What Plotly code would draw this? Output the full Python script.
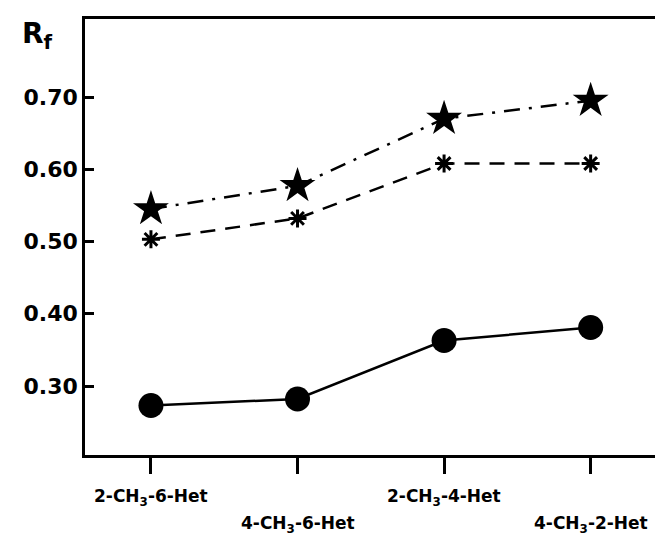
import plotly.graph_objects as go

categories = ["2-CH<sub>3</sub>-6-Het", "4-CH<sub>3</sub>-6-Het", "2-CH<sub>3</sub>-4-Het", "4-CH<sub>3</sub>-2-Het"]
x_pos = [0, 1, 2, 3]
rf_star = [0.545, 0.577, 0.670, 0.695]
rf_asterisk = [0.503, 0.532, 0.608, 0.608]
rf_circle = [0.273, 0.282, 0.363, 0.381]
y_ticks = [0.30, 0.40, 0.50, 0.60, 0.70]
y_tick_labels = ["0.30", "0.40", "0.50", "0.60", "0.70"]
label_rows = [0, 1, 0, 1]

fig = go.Figure()
fig.add_trace(go.Scatter(
    x=x_pos, y=rf_star, mode="lines+markers",
    line=dict(color="black", width=2.5, dash="16px,9px,3px,9px"),
    marker=dict(symbol="star", size=27, color="black"),
    showlegend=False))
fig.add_trace(go.Scatter(
    x=x_pos, y=rf_asterisk, mode="lines+markers",
    line=dict(color="black", width=2.5, dash="15px,10px"),
    marker=dict(symbol="asterisk-open", size=15, color="black",
                line=dict(color="black", width=3)),
    showlegend=False))
fig.add_trace(go.Scatter(
    x=x_pos, y=rf_circle, mode="lines+markers",
    line=dict(color="black", width=2.5),
    marker=dict(symbol="circle", size=25, color="black"),
    showlegend=False))

font_b = "DejaVu Sans, Liberation Sans, Arial, sans-serif"

for xi, lab, row in zip(x_pos, categories, label_rows):
    fig.add_annotation(
        x=xi, xref="x", y=-0.097 if row == 0 else -0.160, yref="paper",
        text="<b>" + lab + "</b>", showarrow=False,
        font=dict(family=font_b, size=17, color="black"),
        xanchor="center", yanchor="middle")

fig.add_annotation(
    x=-0.082, xref="paper", y=0.962, yref="paper",
    text="<b>R<sub>f</sub></b>", showarrow=False,
    font=dict(family=font_b, size=28, color="black"),
    xanchor="center", yanchor="middle")

fig.update_xaxes(
    range=[-0.45, 3.48], tickvals=x_pos, showticklabels=False,
    ticks="outside", ticklen=16, tickwidth=2.5, tickcolor="black",
    showgrid=False, zeroline=False,
    showline=True, linecolor="black", linewidth=2.5, mirror=True)
fig.update_yaxes(
    range=[0.2045, 0.808], tickvals=y_ticks, ticktext=y_tick_labels,
    ticks="inside", ticklen=9, tickwidth=2.5, tickcolor="black",
    tickfont=dict(family=font_b, size=22, color="black", weight="bold"),
    showgrid=False, zeroline=False,
    showline=True, linecolor="black", linewidth=2.5, mirror=True)

fig.update_layout(
    width=663, height=539,
    margin=dict(l=77, r=7, t=11, b=92),
    paper_bgcolor="white", plot_bgcolor="white")

fig.write_html("out.html")
